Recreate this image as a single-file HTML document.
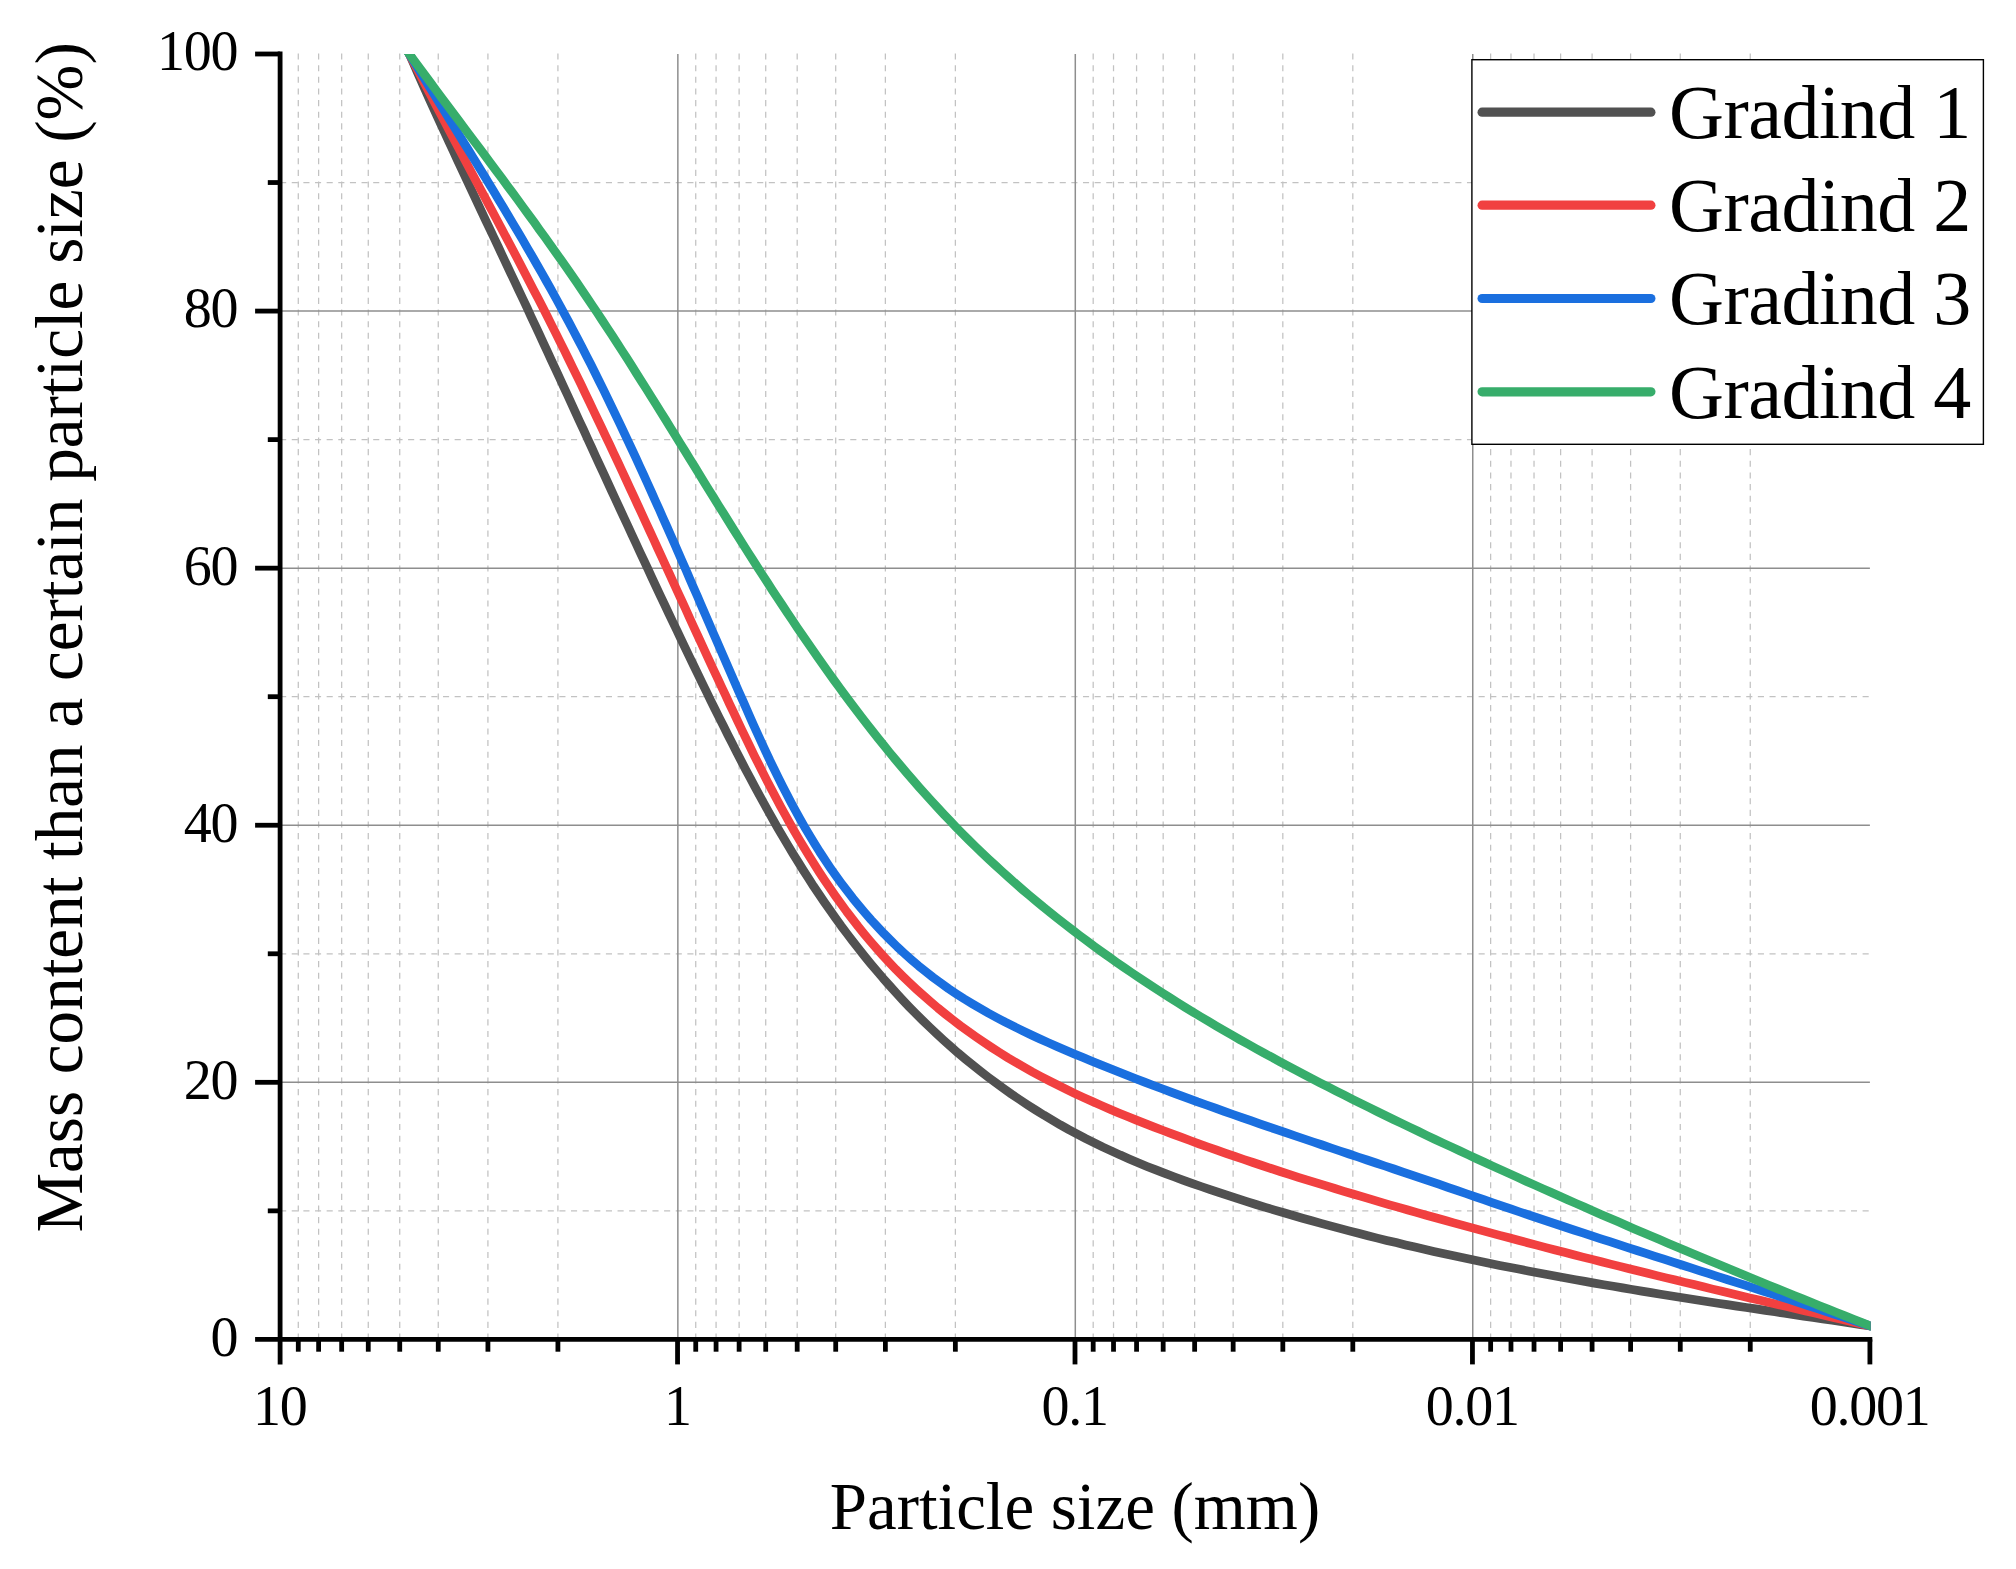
<!DOCTYPE html>
<html lang="en"><head><meta charset="utf-8"><title>Particle size grading curves</title>
<style>html,body{margin:0;padding:0;background:#fff}body{width:2016px;height:1569px;overflow:hidden}svg{display:block}</style></head>
<body>
<svg width="2016" height="1569" viewBox="0 0 2016 1569">
<rect width="2016" height="1569" fill="#fff"/>
<defs><clipPath id="plot"><rect x="280.10" y="54.00" width="1590.50" height="1285.40"/></clipPath></defs>
<g stroke="#c2c2c2" stroke-width="1.25" stroke-dasharray="6.1 5.536" fill="none"><path d="M557.91 53.50V1339.40"/><path d="M487.92 53.50V1339.40"/><path d="M438.26 53.50V1339.40"/><path d="M399.74 53.50V1339.40"/><path d="M368.27 53.50V1339.40"/><path d="M341.67 53.50V1339.40"/><path d="M318.62 53.50V1339.40"/><path d="M298.29 53.50V1339.40"/><path d="M955.36 53.50V1339.40"/><path d="M885.37 53.50V1339.40"/><path d="M835.71 53.50V1339.40"/><path d="M797.19 53.50V1339.40"/><path d="M765.72 53.50V1339.40"/><path d="M739.12 53.50V1339.40"/><path d="M716.07 53.50V1339.40"/><path d="M695.74 53.50V1339.40"/><path d="M1352.81 53.50V1339.40"/><path d="M1282.82 53.50V1339.40"/><path d="M1233.16 53.50V1339.40"/><path d="M1194.64 53.50V1339.40"/><path d="M1163.17 53.50V1339.40"/><path d="M1136.57 53.50V1339.40"/><path d="M1113.52 53.50V1339.40"/><path d="M1093.19 53.50V1339.40"/><path d="M1750.26 53.50V1339.40"/><path d="M1680.27 53.50V1339.40"/><path d="M1630.61 53.50V1339.40"/><path d="M1592.09 53.50V1339.40"/><path d="M1560.62 53.50V1339.40"/><path d="M1534.02 53.50V1339.40"/><path d="M1510.97 53.50V1339.40"/><path d="M1490.64 53.50V1339.40"/><path d="M280.10 1210.86H1869.90"/><path d="M280.10 953.78H1869.90"/><path d="M280.10 696.70H1869.90"/><path d="M280.10 439.62H1869.90"/><path d="M280.10 182.54H1869.90"/></g>
<g stroke="#8e8e8e" stroke-width="1.5" fill="none"><path d="M677.85 54.00V1339.40"/><path d="M1075.30 54.00V1339.40"/><path d="M1472.75 54.00V1339.40"/><path d="M280.10 1082.32H1869.90"/><path d="M280.10 825.24H1869.90"/><path d="M280.10 568.16H1869.90"/><path d="M280.10 311.08H1869.90"/></g>
<g clip-path="url(#plot)" fill="none" stroke-width="8.70" stroke-linejoin="round">
<path d="M404.5 43.0L409.3 54.0L413.2 62.8L417.1 71.7L421.0 80.5L424.9 89.3L428.9 98.1L432.9 106.9L436.9 115.7L440.9 124.4L445.0 133.2L449.0 142.0L453.1 150.7L457.1 159.5L461.2 168.2L465.3 177.0L469.4 185.7L473.5 194.4L477.6 203.2L481.7 211.9L485.8 220.6L490.0 229.3L494.1 238.0L498.2 246.7L502.3 255.5L506.4 264.2L510.5 272.9L514.7 281.6L518.8 290.3L522.9 299.0L527.0 307.7L531.0 316.5L535.1 325.2L539.2 333.9L543.2 342.6L547.3 351.4L551.3 360.1L555.4 368.8L559.4 377.5L563.4 386.3L567.5 395.0L571.5 403.7L575.5 412.5L579.5 421.2L583.6 429.9L587.6 438.7L591.6 447.4L595.6 456.2L599.6 464.9L603.7 473.6L607.7 482.4L611.7 491.1L615.7 499.8L619.8 508.6L623.8 517.3L627.9 526.0L631.9 534.8L636.0 543.5L640.0 552.2L644.1 560.9L648.2 569.7L652.2 578.4L656.3 587.1L660.4 595.8L664.6 604.6L668.7 613.3L672.8 622.0L677.0 630.7L681.1 639.4L685.3 648.1L689.5 656.8L693.7 665.5L697.9 674.2L702.1 682.9L706.4 691.6L710.6 700.3L714.9 709.0L719.2 717.6L723.6 726.3L727.9 735.0L732.3 743.6L736.7 752.2L741.1 760.8L745.6 769.4L750.2 778.0L754.7 786.5L759.3 795.0L764.0 803.5L768.7 812.0L773.4 820.4L778.2 828.8L783.1 837.1L788.0 845.4L793.0 853.7L798.1 861.9L803.2 870.1L808.4 878.2L813.6 886.3L819.0 894.3L824.4 902.2L829.9 910.1L835.5 918.0L841.1 925.8L846.9 933.5L852.7 941.1L858.6 948.7L864.6 956.2L870.7 963.7L876.9 971.0L883.1 978.3L889.5 985.5L895.9 992.7L902.4 999.7L909.0 1006.7L915.7 1013.5L922.6 1020.3L929.5 1027.0L936.5 1033.6L943.5 1040.1L950.7 1046.5L958.0 1052.9L965.4 1059.1L972.9 1065.2L980.4 1071.2L988.1 1077.1L995.8 1082.8L1003.6 1088.5L1011.5 1094.1L1019.5 1099.5L1027.5 1104.8L1035.6 1110.0L1043.8 1115.1L1052.1 1120.0L1060.4 1124.9L1068.8 1129.6L1077.3 1134.1L1085.8 1138.6L1094.4 1142.9L1103.0 1147.1L1111.7 1151.1L1120.4 1155.1L1129.2 1158.9L1138.1 1162.7L1147.0 1166.4L1155.9 1169.9L1164.9 1173.4L1173.9 1176.8L1182.9 1180.1L1192.0 1183.4L1201.1 1186.5L1210.2 1189.6L1219.3 1192.7L1228.5 1195.7L1237.7 1198.7L1246.9 1201.6L1256.1 1204.5L1265.4 1207.3L1274.6 1210.1L1283.9 1212.8L1293.2 1215.5L1302.5 1218.2L1311.8 1220.8L1321.1 1223.4L1330.4 1225.9L1339.8 1228.4L1349.1 1230.9L1358.5 1233.3L1367.9 1235.7L1377.3 1238.1L1386.7 1240.4L1396.1 1242.6L1405.5 1244.9L1414.9 1247.1L1424.3 1249.2L1433.7 1251.4L1443.1 1253.5L1452.6 1255.5L1462.0 1257.6L1471.4 1259.6L1480.8 1261.5L1490.3 1263.5L1499.7 1265.4L1509.2 1267.3L1518.6 1269.1L1528.1 1270.9L1537.5 1272.7L1547.0 1274.5L1556.4 1276.3L1565.9 1278.0L1575.4 1279.7L1584.8 1281.4L1594.3 1283.1L1603.8 1284.7L1613.3 1286.3L1622.7 1287.9L1632.2 1289.5L1641.7 1291.1L1651.2 1292.6L1660.7 1294.2L1670.2 1295.7L1679.7 1297.2L1689.2 1298.7L1698.7 1300.2L1708.2 1301.7L1717.8 1303.2L1727.3 1304.6L1736.8 1306.1L1746.3 1307.5L1755.9 1308.9L1765.4 1310.4L1774.9 1311.8L1784.5 1313.2L1794.0 1314.6L1803.6 1316.1L1813.1 1317.5L1822.7 1318.9L1832.2 1320.3L1841.8 1321.7L1851.4 1323.1L1860.9 1324.6L1870.5 1326.0L1882.4 1327.8" stroke="#515151"/>
<path d="M403.8 43.3L409.3 54.0L413.7 62.5L418.1 70.9L422.5 79.4L426.9 87.9L431.3 96.3L435.7 104.8L440.2 113.2L444.6 121.6L449.0 130.1L453.5 138.5L458.0 146.9L462.4 155.3L466.9 163.8L471.4 172.2L475.9 180.6L480.4 189.0L484.9 197.4L489.4 205.9L493.9 214.3L498.4 222.7L502.9 231.2L507.3 239.6L511.8 248.0L516.3 256.5L520.7 264.9L525.1 273.4L529.5 281.9L533.9 290.4L538.3 298.8L542.7 307.3L547.0 315.8L551.3 324.4L555.6 332.9L559.8 341.4L564.1 349.9L568.3 358.5L572.5 367.1L576.7 375.6L580.9 384.2L585.0 392.8L589.1 401.4L593.2 410.0L597.3 418.6L601.4 427.2L605.5 435.8L609.6 444.4L613.6 453.0L617.7 461.6L621.7 470.3L625.7 478.9L629.7 487.6L633.7 496.2L637.7 504.9L641.7 513.5L645.7 522.2L649.7 530.8L653.7 539.5L657.6 548.1L661.6 556.8L665.6 565.5L669.6 574.1L673.5 582.8L677.5 591.5L681.5 600.1L685.5 608.8L689.4 617.5L693.4 626.2L697.4 634.8L701.4 643.5L705.4 652.2L709.4 660.8L713.4 669.5L717.5 678.1L721.5 686.8L725.6 695.4L729.6 704.1L733.7 712.7L737.8 721.4L741.9 730.0L746.1 738.6L750.2 747.2L754.4 755.8L758.7 764.3L763.0 772.9L767.3 781.4L771.7 789.8L776.2 798.3L780.7 806.7L785.3 815.0L789.9 823.4L794.6 831.7L799.4 839.9L804.3 848.1L809.3 856.2L814.3 864.3L819.4 872.3L824.7 880.3L830.0 888.2L835.4 896.0L841.0 903.8L846.6 911.5L852.4 919.0L858.2 926.5L864.2 933.9L870.3 941.2L876.5 948.4L882.8 955.5L889.3 962.5L895.9 969.4L902.6 976.1L909.4 982.7L916.4 989.2L923.5 995.6L930.6 1001.8L937.9 1008.0L945.3 1014.0L952.8 1019.9L960.4 1025.7L968.1 1031.3L975.8 1036.8L983.7 1042.2L991.7 1047.5L999.7 1052.6L1007.8 1057.7L1016.0 1062.6L1024.2 1067.3L1032.5 1072.0L1040.9 1076.5L1049.4 1080.9L1057.9 1085.2L1066.4 1089.4L1075.0 1093.6L1083.7 1097.6L1092.4 1101.5L1101.1 1105.4L1109.9 1109.2L1118.7 1112.9L1127.5 1116.5L1136.4 1120.1L1145.3 1123.6L1154.2 1127.1L1163.1 1130.5L1172.0 1133.9L1181.0 1137.2L1190.0 1140.5L1198.9 1143.8L1207.9 1147.0L1216.9 1150.2L1225.9 1153.3L1234.9 1156.4L1244.0 1159.5L1253.0 1162.5L1262.0 1165.5L1271.1 1168.5L1280.2 1171.5L1289.2 1174.4L1298.3 1177.3L1307.4 1180.1L1316.5 1182.9L1325.6 1185.7L1334.8 1188.5L1343.9 1191.3L1353.0 1194.0L1362.1 1196.7L1371.3 1199.4L1380.4 1202.1L1389.6 1204.8L1398.8 1207.4L1407.9 1210.0L1417.1 1212.6L1426.3 1215.2L1435.5 1217.8L1444.6 1220.3L1453.8 1222.9L1463.0 1225.4L1472.2 1227.9L1481.4 1230.4L1490.6 1232.9L1499.8 1235.4L1509.1 1237.8L1518.3 1240.3L1527.5 1242.7L1536.7 1245.1L1546.0 1247.6L1555.2 1250.0L1564.4 1252.3L1573.7 1254.7L1582.9 1257.1L1592.2 1259.4L1601.4 1261.8L1610.7 1264.1L1619.9 1266.4L1629.2 1268.7L1638.5 1271.0L1647.7 1273.3L1657.0 1275.6L1666.2 1277.9L1675.5 1280.1L1684.8 1282.4L1694.1 1284.6L1703.3 1286.8L1712.6 1289.1L1721.9 1291.3L1731.2 1293.5L1740.5 1295.7L1749.7 1297.9L1759.0 1300.1L1768.3 1302.3L1777.6 1304.5L1786.9 1306.6L1796.2 1308.8L1805.5 1311.0L1814.8 1313.1L1824.0 1315.3L1833.3 1317.4L1842.6 1319.6L1851.9 1321.7L1861.2 1323.9L1870.5 1326.0L1882.2 1328.7" stroke="#F14040"/>
<path d="M403.0 43.8L409.3 54.0L414.2 62.0L419.1 70.1L424.1 78.1L429.0 86.2L434.0 94.2L438.9 102.3L443.9 110.3L448.9 118.4L453.9 126.4L458.8 134.5L463.8 142.6L468.8 150.6L473.8 158.7L478.7 166.8L483.7 174.9L488.6 183.0L493.5 191.1L498.4 199.2L503.3 207.3L508.2 215.4L513.0 223.6L517.9 231.7L522.7 239.9L527.4 248.1L532.2 256.3L536.9 264.5L541.6 272.7L546.3 281.0L550.9 289.2L555.5 297.5L560.0 305.8L564.5 314.1L569.0 322.4L573.4 330.8L577.8 339.1L582.2 347.5L586.5 355.9L590.8 364.3L595.0 372.7L599.2 381.2L603.4 389.6L607.5 398.1L611.6 406.6L615.7 415.1L619.8 423.6L623.8 432.1L627.8 440.6L631.8 449.2L635.8 457.7L639.7 466.3L643.7 474.9L647.6 483.5L651.5 492.1L655.3 500.7L659.2 509.3L663.0 517.9L666.9 526.6L670.7 535.2L674.5 543.8L678.3 552.5L682.1 561.2L685.9 569.8L689.6 578.5L693.4 587.2L697.2 595.8L700.9 604.5L704.7 613.2L708.5 621.9L712.2 630.6L716.0 639.3L719.8 648.0L723.6 656.7L727.3 665.3L731.1 674.0L734.9 682.7L738.7 691.4L742.6 700.1L746.4 708.8L750.2 717.5L754.1 726.2L758.0 734.8L762.0 743.5L766.0 752.1L770.0 760.7L774.2 769.2L778.3 777.7L782.6 786.2L786.9 794.6L791.3 803.0L795.8 811.3L800.4 819.6L805.1 827.8L809.9 835.9L814.8 844.0L819.8 852.0L825.0 859.9L830.3 867.8L835.7 875.5L841.3 883.2L847.0 890.7L852.8 898.2L858.8 905.5L864.9 912.7L871.1 919.9L877.5 926.8L884.0 933.7L890.7 940.4L897.4 947.0L904.3 953.4L911.4 959.7L918.5 965.8L925.8 971.7L933.2 977.5L940.8 983.1L948.5 988.6L956.3 993.8L964.2 998.9L972.2 1003.8L980.4 1008.6L988.6 1013.3L996.9 1017.8L1005.3 1022.2L1013.8 1026.4L1022.3 1030.6L1030.9 1034.7L1039.5 1038.7L1048.2 1042.6L1056.9 1046.4L1065.6 1050.2L1074.3 1053.9L1083.1 1057.6L1091.9 1061.2L1100.6 1064.8L1109.4 1068.3L1118.2 1071.8L1127.0 1075.3L1135.8 1078.7L1144.6 1082.1L1153.4 1085.5L1162.2 1088.8L1171.1 1092.1L1179.9 1095.4L1188.8 1098.6L1197.6 1101.9L1206.5 1105.0L1215.4 1108.2L1224.2 1111.4L1233.1 1114.5L1242.0 1117.6L1250.9 1120.7L1259.8 1123.8L1268.7 1126.9L1277.6 1129.9L1286.5 1132.9L1295.5 1136.0L1304.4 1139.0L1313.3 1142.0L1322.3 1145.0L1331.2 1148.0L1340.1 1151.0L1349.1 1154.0L1358.0 1157.0L1367.0 1160.0L1376.0 1163.0L1384.9 1166.0L1393.9 1169.0L1402.9 1172.1L1411.9 1175.1L1420.8 1178.1L1429.8 1181.2L1438.8 1184.2L1447.8 1187.3L1456.8 1190.4L1465.8 1193.5L1474.8 1196.6L1483.8 1199.7L1492.8 1202.8L1501.8 1205.8L1510.8 1208.9L1519.8 1212.0L1528.8 1215.0L1537.8 1218.0L1546.8 1221.0L1555.8 1224.0L1564.8 1227.0L1573.8 1230.0L1582.9 1232.9L1591.9 1235.9L1600.9 1238.8L1609.9 1241.7L1618.9 1244.7L1627.9 1247.6L1636.9 1250.5L1645.9 1253.4L1654.9 1256.3L1663.9 1259.2L1673.0 1262.1L1682.0 1265.0L1691.0 1267.9L1700.0 1270.8L1709.0 1273.7L1718.0 1276.6L1727.0 1279.5L1736.0 1282.4L1744.9 1285.2L1753.9 1288.1L1762.9 1291.0L1771.9 1293.9L1780.9 1296.8L1789.9 1299.7L1798.8 1302.6L1807.8 1305.5L1816.8 1308.4L1825.7 1311.3L1834.7 1314.3L1843.6 1317.2L1852.6 1320.1L1861.5 1323.1L1870.5 1326.0L1881.9 1329.8" stroke="#1A6FDF"/>
<path d="M402.2 44.3L409.3 54.0L414.7 61.3L420.1 68.6L425.5 75.9L430.9 83.2L436.3 90.5L441.7 97.8L447.2 105.1L452.6 112.4L458.1 119.7L463.6 127.0L469.0 134.3L474.5 141.6L480.0 148.9L485.4 156.2L490.9 163.6L496.3 170.9L501.8 178.2L507.2 185.6L512.7 192.9L518.1 200.3L523.5 207.7L528.9 215.1L534.3 222.4L539.6 229.9L545.0 237.3L550.3 244.7L555.6 252.2L560.8 259.6L566.1 267.1L571.3 274.6L576.5 282.1L581.7 289.7L586.8 297.2L591.9 304.8L597.0 312.4L602.0 320.0L607.0 327.6L612.0 335.2L617.0 342.9L621.9 350.5L626.9 358.2L631.8 365.9L636.6 373.6L641.5 381.3L646.4 389.0L651.2 396.7L656.1 404.5L660.9 412.2L665.7 419.9L670.5 427.7L675.3 435.4L680.1 443.2L684.9 450.9L689.7 458.7L694.5 466.4L699.3 474.2L704.0 481.9L708.8 489.7L713.6 497.4L718.4 505.2L723.3 512.9L728.1 520.6L732.9 528.4L737.8 536.1L742.6 543.8L747.5 551.5L752.4 559.2L757.3 566.9L762.2 574.5L767.2 582.2L772.1 589.8L777.1 597.4L782.2 605.0L787.2 612.6L792.3 620.2L797.4 627.8L802.5 635.3L807.7 642.8L812.9 650.3L818.1 657.8L823.4 665.3L828.7 672.7L834.0 680.1L839.4 687.5L844.8 694.8L850.2 702.1L855.7 709.4L861.2 716.6L866.8 723.9L872.4 731.0L878.1 738.2L883.8 745.3L889.5 752.4L895.3 759.4L901.2 766.4L907.1 773.3L913.0 780.2L919.0 787.1L925.1 793.9L931.2 800.6L937.3 807.3L943.5 814.0L949.8 820.6L956.1 827.2L962.5 833.7L968.9 840.1L975.4 846.5L982.0 852.8L988.6 859.1L995.3 865.3L1002.0 871.4L1008.8 877.5L1015.6 883.6L1022.5 889.6L1029.5 895.5L1036.5 901.3L1043.5 907.2L1050.6 912.9L1057.8 918.6L1064.9 924.2L1072.2 929.8L1079.5 935.4L1086.8 940.8L1094.1 946.3L1101.5 951.6L1109.0 956.9L1116.4 962.2L1123.9 967.4L1131.4 972.5L1139.0 977.6L1146.6 982.7L1154.2 987.7L1161.9 992.6L1169.6 997.5L1177.3 1002.4L1185.0 1007.2L1192.8 1011.9L1200.5 1016.6L1208.4 1021.3L1216.2 1025.9L1224.0 1030.5L1231.9 1035.1L1239.8 1039.6L1247.8 1044.0L1255.7 1048.5L1263.7 1052.9L1271.7 1057.2L1279.7 1061.6L1287.7 1065.9L1295.8 1070.1L1303.8 1074.4L1311.9 1078.6L1320.0 1082.8L1328.1 1086.9L1336.2 1091.1L1344.4 1095.2L1352.5 1099.3L1360.7 1103.4L1368.9 1107.4L1377.1 1111.5L1385.3 1115.5L1393.5 1119.5L1401.7 1123.4L1410.0 1127.4L1418.2 1131.3L1426.5 1135.3L1434.7 1139.2L1443.0 1143.1L1451.3 1146.9L1459.6 1150.8L1467.9 1154.6L1476.1 1158.5L1484.4 1162.3L1492.7 1166.1L1501.1 1169.9L1509.4 1173.6L1517.7 1177.4L1526.0 1181.2L1534.3 1184.9L1542.6 1188.6L1550.9 1192.3L1559.3 1196.0L1567.6 1199.7L1575.9 1203.4L1584.3 1207.1L1592.6 1210.7L1601.0 1214.4L1609.3 1218.0L1617.7 1221.6L1626.0 1225.3L1634.4 1228.9L1642.8 1232.5L1651.1 1236.0L1659.5 1239.6L1667.9 1243.2L1676.3 1246.7L1684.7 1250.3L1693.0 1253.8L1701.4 1257.3L1709.8 1260.8L1718.3 1264.3L1726.7 1267.8L1735.1 1271.3L1743.5 1274.8L1751.9 1278.3L1760.4 1281.7L1768.8 1285.2L1777.2 1288.6L1785.7 1292.0L1794.2 1295.5L1802.6 1298.9L1811.1 1302.3L1819.5 1305.7L1828.0 1309.1L1836.5 1312.5L1845.0 1315.9L1853.5 1319.3L1862.0 1322.6L1870.5 1326.0L1881.7 1330.4" stroke="#37AD6B"/>
</g>
<g stroke="#000" stroke-width="4.80" fill="none"><path d="M280.10 51.60V1364.40"/><path d="M255.10 1339.40H1872.30"/><path d="M267.80 1210.86H280.10"/><path d="M255.10 1082.32H280.10"/><path d="M267.80 953.78H280.10"/><path d="M255.10 825.24H280.10"/><path d="M267.80 696.70H280.10"/><path d="M255.10 568.16H280.10"/><path d="M267.80 439.62H280.10"/><path d="M255.10 311.08H280.10"/><path d="M267.80 182.54H280.10"/><path d="M255.10 54.00H280.10"/><path d="M677.55 1339.40V1364.40"/><path d="M557.91 1339.40V1351.70"/><path d="M487.92 1339.40V1351.70"/><path d="M438.26 1339.40V1351.70"/><path d="M399.74 1339.40V1351.70"/><path d="M368.27 1339.40V1351.70"/><path d="M341.67 1339.40V1351.70"/><path d="M318.62 1339.40V1351.70"/><path d="M298.29 1339.40V1351.70"/><path d="M1075.00 1339.40V1364.40"/><path d="M955.36 1339.40V1351.70"/><path d="M885.37 1339.40V1351.70"/><path d="M835.71 1339.40V1351.70"/><path d="M797.19 1339.40V1351.70"/><path d="M765.72 1339.40V1351.70"/><path d="M739.12 1339.40V1351.70"/><path d="M716.07 1339.40V1351.70"/><path d="M695.74 1339.40V1351.70"/><path d="M1472.45 1339.40V1364.40"/><path d="M1352.81 1339.40V1351.70"/><path d="M1282.82 1339.40V1351.70"/><path d="M1233.16 1339.40V1351.70"/><path d="M1194.64 1339.40V1351.70"/><path d="M1163.17 1339.40V1351.70"/><path d="M1136.57 1339.40V1351.70"/><path d="M1113.52 1339.40V1351.70"/><path d="M1093.19 1339.40V1351.70"/><path d="M1869.90 1339.40V1364.40"/><path d="M1750.26 1339.40V1351.70"/><path d="M1680.27 1339.40V1351.70"/><path d="M1630.61 1339.40V1351.70"/><path d="M1592.09 1339.40V1351.70"/><path d="M1560.62 1339.40V1351.70"/><path d="M1534.02 1339.40V1351.70"/><path d="M1510.97 1339.40V1351.70"/><path d="M1490.64 1339.40V1351.70"/></g>
<g font-family="'Liberation Serif', 'Times New Roman', serif" fill="#000">
<g font-size="56.00" letter-spacing="-1.25" text-anchor="end">
<text x="237.30" y="1355.80">0</text>
<text x="237.30" y="1098.72">20</text>
<text x="237.30" y="841.64">40</text>
<text x="237.30" y="584.56">60</text>
<text x="237.30" y="327.48">80</text>
<text x="237.30" y="70.40">100</text>
</g>
<g font-size="56.00" letter-spacing="-1.25" text-anchor="middle">
<text x="279.80" y="1425.00">10</text>
<text x="677.25" y="1425.00">1</text>
<text x="1074.70" y="1425.00">0.1</text>
<text x="1472.15" y="1425.00">0.01</text>
<text x="1869.60" y="1425.00">0.001</text>
</g>
<text x="1075.00" y="1528.90" font-size="66.90" text-anchor="middle">Particle size (mm)</text>
<text transform="translate(82.00 637.40) rotate(-90)" font-size="67.10" text-anchor="middle">Mass content than a certain particle size (%)</text>
<rect x="1471.9" y="59.7" width="511.5" height="384.6" fill="#fff" stroke="#000" stroke-width="1.4"/>
<path d="M1482.1 112.15H1650.9" stroke="#515151" stroke-width="9.2" stroke-linecap="round" fill="none"/>
<text x="1669.10" y="138.05" font-size="76.00" letter-spacing="-0.50">Gradind 1</text>
<path d="M1482.1 205.20H1650.9" stroke="#F14040" stroke-width="9.2" stroke-linecap="round" fill="none"/>
<text x="1669.10" y="231.10" font-size="76.00" letter-spacing="-0.50">Gradind 2</text>
<path d="M1482.1 298.50H1650.9" stroke="#1A6FDF" stroke-width="9.2" stroke-linecap="round" fill="none"/>
<text x="1669.10" y="324.40" font-size="76.00" letter-spacing="-0.50">Gradind 3</text>
<path d="M1482.1 391.80H1650.9" stroke="#37AD6B" stroke-width="9.2" stroke-linecap="round" fill="none"/>
<text x="1669.10" y="417.70" font-size="76.00" letter-spacing="-0.50">Gradind 4</text>
</g>
</svg>
</body></html>
